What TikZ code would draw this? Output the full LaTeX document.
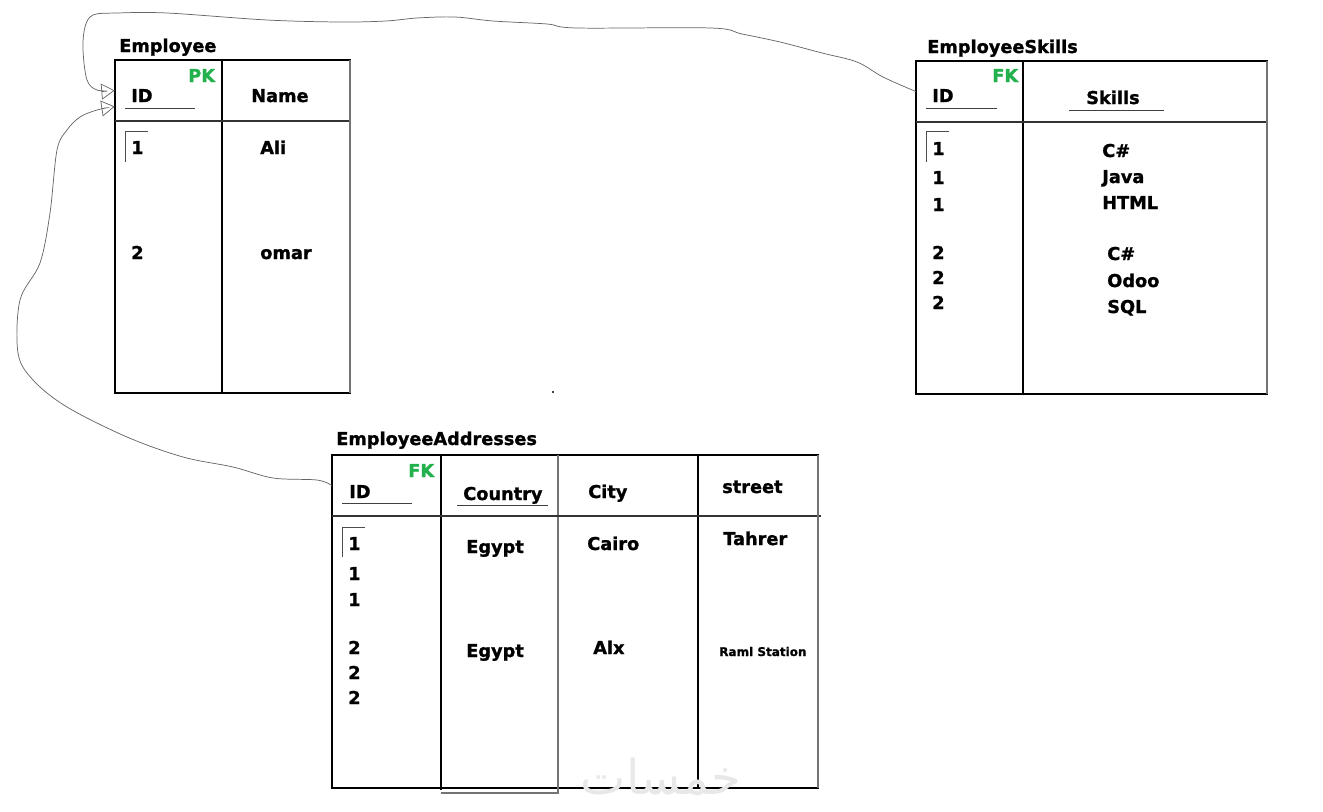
\documentclass[tikz,border=0pt]{standalone}
\usepackage{fontspec}
\setmainfont{DejaVu Sans}[BoldFeatures={FakeBold=1.2}]
\newfontfamily\arabicfont[Script=Arabic]{DejaVu Sans}
\TeXXeTstate=1
\usetikzlibrary{fit,arrows.meta}
\definecolor{pkgreen}{HTML}{22B14C}
\begin{document}
\begin{tikzpicture}[x=0.75pt,y=-0.75pt,
  font=\bfseries\fontsize{13.3}{15}\selectfont,
  txt/.style={anchor=base west, inner sep=0pt},
  keytxt/.style={txt, text=pkgreen},
  smalltxt/.style={txt, font=\bfseries\fontsize{9}{10}\selectfont},
  tablebox/.style={draw, line width=1.3pt, inner sep=0pt},
  cell/.style={inner sep=0pt},
  divider/.style={line width=1.2pt},
  thickdiv/.style={line width=2.2pt},
  grayline/.style={line width=1.2pt, black!55},
  headline/.style={line width=0.9pt, black!80},
  uline/.style={line width=0.7pt, black!75},
  cornermark/.style={line width=0.6pt, black!70},
  conn/.style={black!60, line width=0.55pt, -{Triangle[open,length=10pt,width=12pt]}}
]
\useasboundingbox (0,0) rectangle (1323,811);
\clip (0,0) rectangle (1323,811);

% ---------------- Employee ----------------
\node[txt] (empT) at (119,52) {Employee};
\node[tablebox, fit={(115,60)(350,393)}] (emp) {};
\node[cell, fit={(115,60)(222,121)}] (empid) {};
\draw[divider] (222,60) -- (222,393);
\draw[headline] (115,121) -- (350,121);
\draw[grayline] (350,60) -- (350,393);
\node[keytxt] (empPK) at (188,82) {PK};
\node[txt] (empIDh) at (131,102) {ID};
\draw[uline] (125,108) -- (195,108);
\node[txt] (empNameh) at (251,102) {Name};
\draw[cornermark] (125,162) -- (125,131) -- (148,131);
\node[txt] (e1) at (131,154) {1};
\node[txt] (e1n) at (260,154) {Ali};
\node[txt] (e2) at (131,259) {2};
\node[txt] (e2n) at (260,259) {omar};

% ---------------- EmployeeSkills ----------------
\node[txt] (skT) at (927,53) {EmployeeSkills};
\node[tablebox, fit={(916,61)(1267,394)}] (sk) {};
\node[cell, fit={(916,61)(1023,122)}] (skid) {};
\draw[thickdiv] (1023,60) -- (1023,395);
\draw[headline] (916,122) -- (1267,122);
\draw[grayline] (1267,61) -- (1267,394);
\node[keytxt] (skFK) at (992,82) {FK};
\node[txt] (skIDh) at (932,102) {ID};
\draw[uline] (926,108) -- (997,108);
\node[txt] (skSh) at (1086,104) {Skills};
\draw[uline] (1069,110) -- (1164,110);
\draw[cornermark] (926,162) -- (926,131) -- (949,131);
\node[txt] (s1) at (932,155) {1};
\node[txt] (s2) at (932,184) {1};
\node[txt] (s3) at (932,211) {1};
\node[txt] (s4) at (932,259) {2};
\node[txt] (s5) at (932,284) {2};
\node[txt] (s6) at (932,309) {2};
\node[txt] (k1) at (1102,157) {C\#};
\node[txt] (k2) at (1102,183) {Java};
\node[txt] (k3) at (1102,209) {HTML};
\node[txt] (k4) at (1107,260) {C\#};
\node[txt] (k5) at (1107,287) {Odoo};
\node[txt] (k6) at (1107,313) {SQL};

% ---------------- EmployeeAddresses ----------------
\node[txt] (adT) at (336,445) {EmployeeAddresses};
\node[tablebox, fit={(332,455)(818,788)}] (ad) {};
\node[cell, fit={(332,455)(441,516)}] (adid) {};
\draw[thickdiv] (441,455) -- (441,790);
\draw[grayline] (558,455) -- (558,793) -- (441,793);
\draw[divider] (698,455) -- (698,788);
\draw[headline] (332,516) -- (821,516);
\draw[grayline] (818,455) -- (818,788);
\node[keytxt] (adFK) at (408,477) {FK};
\node[txt] (adIDh) at (349,498) {ID};
\draw[uline] (342,503) -- (412,503);
\node[txt] (adCh) at (463,500) {Country};
\draw[uline] (457,505) -- (548,505);
\node[txt] (adCiH) at (588,498) {City};
\node[txt] (adStH) at (722,493) {street};
\draw[cornermark] (342,557) -- (342,527) -- (365,527);
\node[txt] (a1) at (348,550) {1};
\node[txt] (a2) at (348,580) {1};
\node[txt] (a3) at (348,606) {1};
\node[txt] (a4) at (348,654) {2};
\node[txt] (a5) at (348,679) {2};
\node[txt] (a6) at (348,704) {2};
\node[txt] (c1) at (466,553) {Egypt};
\node[txt] (c2) at (466,657) {Egypt};
\node[txt] (ci1) at (587,550) {Cairo};
\node[txt] (ci2) at (593,654) {Alx};
\node[txt] (st1) at (723,545) {Tahrer};
\node[smalltxt] (st2) at (719,656) {Raml Station};

% stray dot
\fill (553,392) circle (1.2);

% ---------------- connectors ----------------
\draw[conn] plot[smooth, tension=0.55] coordinates {
  (skid.west) (883,77) (857,62) (822,53) (780,42) (742,34) (711,28)
  (577,28) (547,24) (493,21) (455,17) (417,18) (386,21) (340,22)
  (267,20) (167,13) (117,13) (93,15) (85,27) (83,50) (87,80) (97,90)
  (empid.west)};
\draw[conn] plot[smooth, tension=0.55] coordinates {
  (adid.west) (317,480) (273,478) (233,467) (183,457) (127,437)
  (67,407) (33,380) (18,353) (20,300) (40,263) (50,213) (57,150)
  (67,130) (80,117) (97,110) ([yshift=-12pt]empid.west)};

% watermark
\node[anchor=base, inner sep=0pt, text=black!9,
  font=\arabicfont\fontsize{36}{36}\selectfont] (wm) at (661,794)
  {\beginR خمسات\endR};
\end{tikzpicture}
\end{document}
